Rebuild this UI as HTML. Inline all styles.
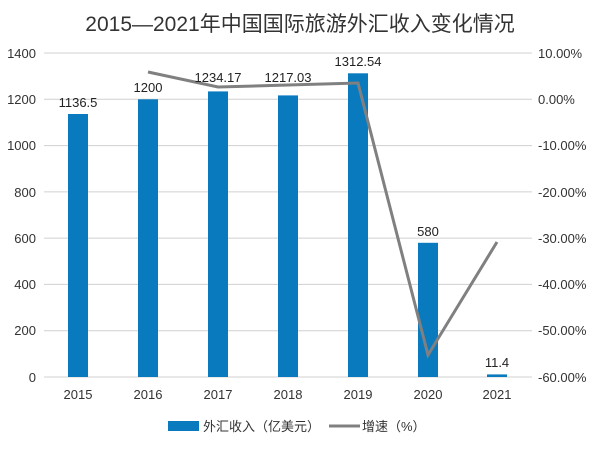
<!DOCTYPE html>
<html><head><meta charset="utf-8"><style>
body{margin:0;background:#fff;}
svg text{font-family:"Liberation Sans","Noto Sans CJK SC",sans-serif;}
</style></head><body>
<svg width="600" height="444" viewBox="0 0 600 444">
<text x="300" y="31" text-anchor="middle" font-size="21" fill="#333">2015—2021年中国国际旅游外汇收入变化情况</text>
<g stroke="#d0d0d0" stroke-width="1">
<line x1="44" x2="532" y1="53" y2="53"/><line x1="44" x2="532" y1="99.3" y2="99.3"/>
<line x1="44" x2="532" y1="145.6" y2="145.6"/><line x1="44" x2="532" y1="191.9" y2="191.9"/>
<line x1="44" x2="532" y1="238.1" y2="238.1"/><line x1="44" x2="532" y1="284.4" y2="284.4"/>
<line x1="44" x2="532" y1="330.7" y2="330.7"/><line x1="44" x2="532" y1="377" y2="377"/>
</g>
<g font-size="13" fill="#333" text-anchor="end">
<text x="36" y="58">1400</text><text x="36" y="104">1200</text><text x="36" y="150">1000</text>
<text x="36" y="197">800</text><text x="36" y="243">600</text><text x="36" y="289">400</text>
<text x="36" y="335">200</text><text x="36" y="382">0</text>
</g>
<g font-size="13" fill="#333">
<text x="538" y="58">10.00%</text><text x="538" y="104">0.00%</text><text x="538" y="150">-10.00%</text>
<text x="538" y="197">-20.00%</text><text x="538" y="243">-30.00%</text><text x="538" y="289">-40.00%</text>
<text x="538" y="335">-50.00%</text><text x="538" y="382">-60.00%</text>
</g>
<g fill="#0a7abf">
<rect x="68" y="114" width="20" height="263"/>
<rect x="138" y="99.3" width="20" height="277.7"/>
<rect x="208" y="91.4" width="20" height="285.6"/>
<rect x="278" y="95.4" width="20" height="281.6"/>
<rect x="348" y="73.3" width="20" height="303.7"/>
<rect x="418" y="242.8" width="20" height="134.2"/>
<rect x="487" y="374.4" width="20" height="2.6"/>
</g>
<polyline points="148,72 218,87 288,85 358,83 428,355 497,242" fill="none" stroke="#808080" stroke-width="3"/>
<g font-size="13" fill="#222" text-anchor="middle">
<text x="78" y="107">1136.5</text><text x="148" y="92">1200</text><text x="218" y="82">1234.17</text>
<text x="288" y="82">1217.03</text><text x="358" y="66">1312.54</text><text x="428" y="236">580</text>
<text x="497" y="367">11.4</text>
</g>
<g font-size="13" fill="#333" text-anchor="middle">
<text x="78" y="399">2015</text><text x="148" y="399">2016</text><text x="218" y="399">2017</text>
<text x="288" y="399">2018</text><text x="358" y="399">2019</text><text x="428" y="399">2020</text><text x="497" y="399">2021</text>
</g>
<rect x="168" y="421" width="31" height="10" fill="#0a7abf"/>
<text x="203" y="431" font-size="13" fill="#333">外汇收入（亿美元）</text>
<line x1="329" x2="360" y1="426" y2="426" stroke="#808080" stroke-width="3"/>
<text x="362" y="431" font-size="13" fill="#333">增速（%）</text>
</svg>
</body></html>
